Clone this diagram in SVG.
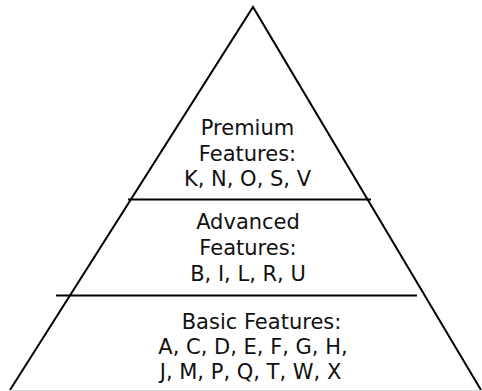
<svg xmlns="http://www.w3.org/2000/svg" width="482" height="391" viewBox="0 0 482 391">
  <style>
    .edge { stroke: #000; stroke-width: 2; fill: none; }
    .base { stroke: #d9d9d9; stroke-width: 1; fill: none; }
    .lbl { font-family: "DejaVu Sans", Verdana, sans-serif; font-size: 21px; fill: #111; text-anchor: middle; }
  </style>
  <rect width="482" height="391" fill="#fff"/>
  <!-- pyramid outline -->
  <g id="pyramid">
    <polyline class="edge" points="10,390 253,7 481,390"/>
    <line class="base" x1="10" y1="390.5" x2="482" y2="390.5"/>
    <line class="edge" x1="128" y1="199.5" x2="371" y2="199.5"/>
    <line class="edge" x1="56" y1="295.5" x2="417" y2="295.5"/>
  </g>
  <g id="tier-premium">
    <text class="lbl" x="247.5" y="135">Premium</text>
    <text class="lbl" x="247.5" y="161">Features:</text>
    <text class="lbl" x="247.5" y="186">K, N, O, S, V</text>
  </g>
  <g id="tier-advanced">
    <text class="lbl" x="248" y="229">Advanced</text>
    <text class="lbl" x="248" y="255">Features:</text>
    <text class="lbl" x="248" y="281">B, I, L, R, U</text>
  </g>
  <g id="tier-basic">
    <text class="lbl" x="261.5" y="329">Basic Features:</text>
    <text class="lbl" x="253" y="354">A, C, D, E, F, G, H,</text>
    <text class="lbl" x="250.5" y="379">J, M, P, Q, T, W, X</text>
  </g>
</svg>
